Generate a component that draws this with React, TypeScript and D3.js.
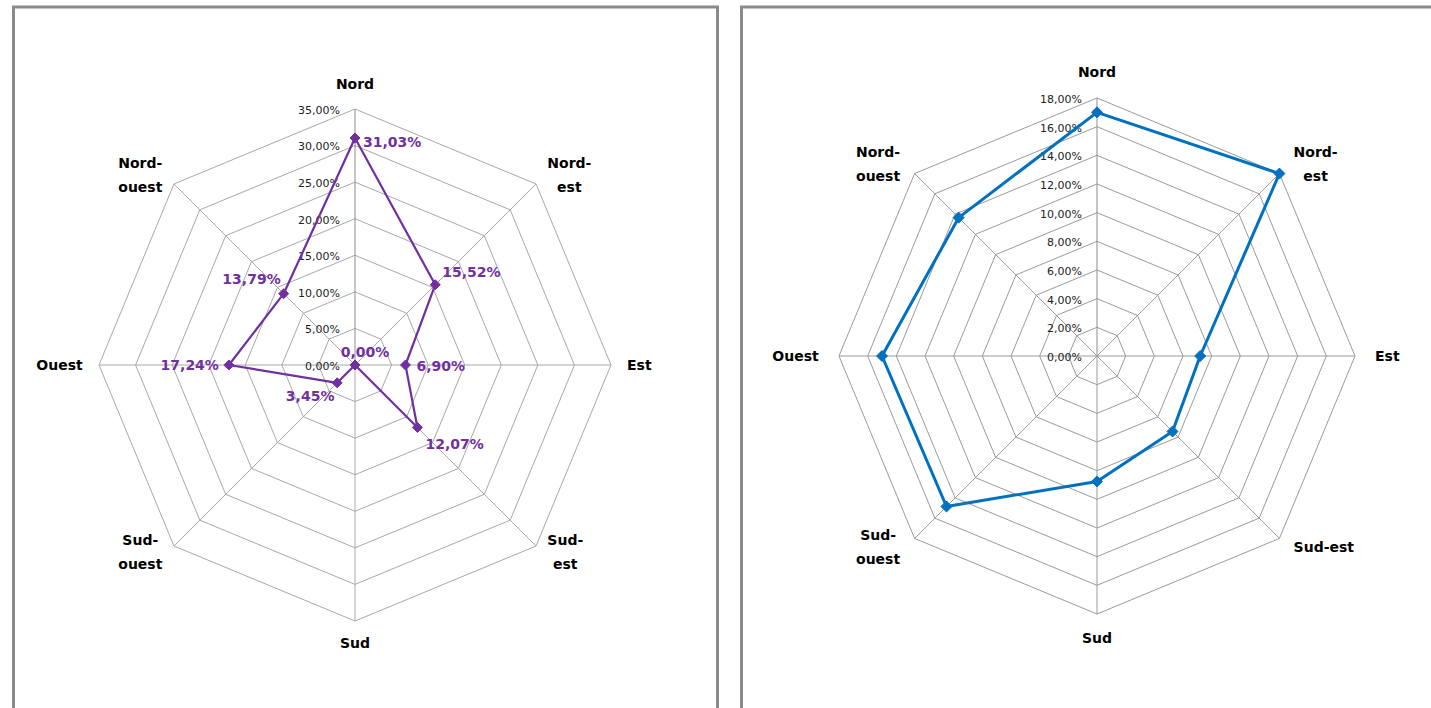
import React, { useEffect, useRef } from "react";
import * as d3 from "d3";

// ---- data ----
const categories = ["Nord", "Nord-est", "Est", "Sud-est", "Sud", "Sud-ouest", "Ouest", "Nord-ouest"];
const leftValues = [31.03, 15.52, 6.9, 12.07, 0.0, 3.45, 17.24, 13.79];
const rightValues = [17.0, 18.0, 7.2, 7.45, 8.75, 14.85, 15.0, 13.65];
const leftTicks = [0, 5, 10, 15, 20, 25, 30, 35];
const rightTicks = [0, 2, 4, 6, 8, 10, 12, 14, 16, 18];
const rightNoWrap = ["Sud-est"];

// label placement for the left chart's data labels (anchor, dx, dy)
const leftLabelLayout: [string, number, number][] = [
  ["start", 8, 4],
  ["start", 7, -13],
  ["start", 11, 1],
  ["start", 8, 17],
  ["middle", 10, -13],
  ["middle", -27, 13],
  ["end", -10, 0],
  ["end", -3, -15],
];

const W = 1431;
const H = 708;
const FONT = "'DejaVu Sans', Verdana, sans-serif";

const fmt = (v: number) => d3.format(".2f")(v).replace(".", ",") + "%";

function splitLabel(name: string, noWrap: string[]) {
  if (noWrap.includes(name) || !name.includes("-")) return [name];
  const i = name.indexOf("-");
  return [name.slice(0, i + 1), name.slice(i + 1)];
}

function drawRadar(svg: any, o: any) {
  const g = svg.append("g");
  const n = categories.length;
  const r = d3.scaleLinear().domain([0, o.max]).range([0, o.R]);
  const ang = (i: number) => (i * 2 * Math.PI) / n;
  const px = (i: number, v: number) => o.cx + r(v) * Math.sin(ang(i));
  const py = (i: number, v: number) => o.cy - r(v) * Math.cos(ang(i));

  // rings
  o.ticks.filter((t: number) => t > 0).forEach((t: number) => {
    const pts = d3.range(n).map((i) => [px(i, t), py(i, t)]);
    g.append("polygon")
      .attr("points", pts.map((p) => p.join(",")).join(" "))
      .attr("fill", "none")
      .attr("stroke", o.grid)
      .attr("stroke-width", 1);
  });
  // spokes
  d3.range(n).forEach((i) => {
    g.append("line")
      .attr("x1", o.cx)
      .attr("y1", o.cy)
      .attr("x2", px(i, o.max))
      .attr("y2", py(i, o.max))
      .attr("stroke", i === 0 ? "#8c8c8c" : o.grid)
      .attr("stroke-width", 1);
  });
  // tick labels
  o.ticks.forEach((t: number) => {
    g.append("text")
      .attr("x", o.cx - 15)
      .attr("y", o.cy - r(t) + 1)
      .attr("dy", "0.35em")
      .attr("text-anchor", "end")
      .attr("font-family", FONT)
      .attr("font-size", 11)
      .attr("fill", "#222")
      .text(fmt(t));
  });
  // category labels
  categories.forEach((c, i) => {
    const s = Math.sin(ang(i));
    const co = Math.cos(ang(i));
    const ax = o.cx + (o.R + o.gap) * s;
    const ay = o.cy - (o.R + o.gap) * co;
    const lines = splitLabel(c, o.noWrap);
    const lh = 24;
    const t = g.append("text")
      .attr("font-family", FONT)
      .attr("font-size", 14)
      .attr("font-weight", "bold")
      .attr("fill", "#000")
      .attr("text-anchor", "middle");
    lines.forEach((l, k) => {
      t.append("tspan").attr("x", 0).attr("y", k * lh).text(l);
    });
    const bb = t.node().getBBox();
    let cxl = ax;
    let cyl = ay;
    if (Math.abs(s) < 0.01) {
      cyl = ay - co * (bb.height / 2) + (co > 0 ? o.vTop : o.vBottom);
    } else {
      cxl = ax + Math.sign(s) * (bb.width / 2);
      if (Math.abs(co) > 0.01) cyl = ay + (co > 0 ? o.dTop : o.dBottom);
    }
    const bcx = bb.x + bb.width / 2;
    const bcy = bb.y + bb.height / 2;
    t.attr("transform", `translate(${cxl - bcx},${cyl - bcy})`);
  });
  // series line
  const pts = o.values.map((v: number, i: number) => [px(i, v), py(i, v)]);
  g.append("path")
    .attr("d", d3.line().curve(d3.curveLinearClosed)(pts))
    .attr("fill", "none")
    .attr("stroke", o.color)
    .attr("stroke-width", o.lineWidth)
    .attr("stroke-linejoin", "round");
  // markers
  pts.forEach((p: number[]) => {
    const m = o.marker;
    g.append("polygon")
      .attr("points", `${p[0]},${p[1] - m} ${p[0] + m},${p[1]} ${p[0]},${p[1] + m} ${p[0] - m},${p[1]}`)
      .attr("fill", o.color)
      .attr("stroke", o.color)
      .attr("stroke-width", 1);
  });
  // data labels
  if (o.labels) {
    pts.forEach((p: number[], i: number) => {
      const [anchor, dx, dy] = o.labels[i];
      g.append("text")
        .attr("x", p[0] + dx)
        .attr("y", p[1] + dy)
        .attr("dy", "0.35em")
        .attr("text-anchor", anchor)
        .attr("font-family", FONT)
        .attr("font-size", 14)
        .attr("font-weight", "bold")
        .attr("fill", o.color)
        .text(fmt(o.values[i]));
    });
  }
}

export default function App() {
  const ref = useRef<SVGSVGElement>(null);
  useEffect(() => {
    document.body.style.margin = "0";
    const svg = d3.select(ref.current);
    svg.selectAll("*").remove();
    svg.append("rect").attr("x", 0).attr("y", 0).attr("width", W).attr("height", H).attr("fill", "#fff");
    // panel frames
    svg.append("path")
      .attr("d", `M13.5,${H + 5} L13.5,7 L717.5,7 L717.5,${H + 5}`)
      .attr("fill", "none")
      .attr("stroke", "#8a8a8a")
      .attr("stroke-width", 3);
    svg.append("path")
      .attr("d", `M741.5,${H + 5} L741.5,7 L${W + 5},7`)
      .attr("fill", "none")
      .attr("stroke", "#8a8a8a")
      .attr("stroke-width", 3);

    drawRadar(svg, {
      cx: 355, cy: 365, R: 256, max: 35, ticks: leftTicks, values: leftValues,
      color: "#7030a0", lineWidth: 2.2, marker: 5, gap: 16, noWrap: [], labels: leftLabelLayout,
      grid: "#a8a8a8", vTop: -1, vBottom: -2, dTop: 2, dBottom: -5,
    });
    drawRadar(svg, {
      cx: 1097, cy: 356, R: 258, max: 18, ticks: rightTicks, values: rightValues,
      color: "#0070c0", lineWidth: 3, marker: 5.5, gap: 20, noWrap: rightNoWrap, labels: null,
      grid: "#9a9a9a", vTop: 2, vBottom: -4, dTop: 5, dBottom: -6,
    });
  }, []);
  return <svg ref={ref} width={W} height={H} style={{ display: "block" }} />;
}
